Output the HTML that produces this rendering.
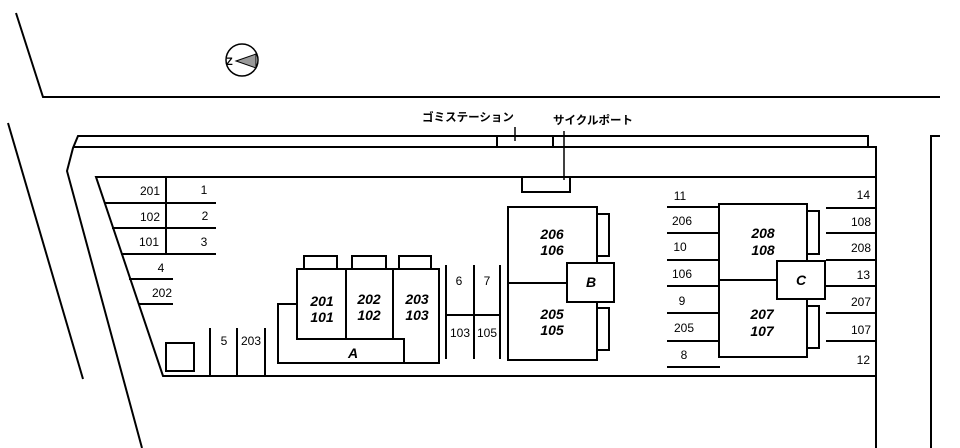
<!DOCTYPE html>
<html><head><meta charset="utf-8"><style>
html,body{margin:0;padding:0;background:#fff;}
svg{display:block;}
text{font-family:"Liberation Sans","Noto Sans CJK JP",sans-serif;fill:#000;}
.n{font-size:12px;}
.b{font-size:14px;font-weight:bold;font-style:italic;}
.j{font-size:11.5px;font-weight:bold;}
</style></head><body>
<svg width="960" height="448" viewBox="0 0 960 448" xmlns="http://www.w3.org/2000/svg">
<g stroke="#000" stroke-width="2" fill="none">
<!-- road -->
<polyline points="16,13 43,97 940,97"/>
<line x1="8" y1="123" x2="83" y2="379"/>
<!-- site outer -->
<polyline points="868,147 868,136 78,136 73,148 67,171 142,448"/>
<polyline points="73,147 876,147 876,448"/>
<polyline points="940,136 931,136 931,448"/>
<!-- inner lot -->
<polyline points="876,177 96,177 163,376 876,376"/>
<!-- gomi station -->
<line x1="497" y1="136" x2="497" y2="147"/>
<line x1="553" y1="136" x2="553" y2="147"/>
<line x1="515" y1="127" x2="515" y2="141" stroke-width="1.5"/>
<!-- cycle port -->
<polyline points="522,177 522,192 570,192 570,177"/>
<line x1="564" y1="131" x2="564" y2="180" stroke-width="1.5"/>
<!-- left parking -->
<line x1="104" y1="203" x2="216" y2="203"/>
<line x1="112" y1="228" x2="216" y2="228"/>
<line x1="121" y1="254" x2="216" y2="254"/>
<line x1="166" y1="177" x2="166" y2="254"/>
<line x1="129" y1="279" x2="173" y2="279"/>
<line x1="138" y1="304" x2="173" y2="304"/>
<rect x="166" y="343" width="28" height="28"/>
<line x1="210" y1="328" x2="210" y2="376"/>
<line x1="237" y1="328" x2="237" y2="376"/>
<line x1="265" y1="328" x2="265" y2="376"/>
<!-- building A -->
<polygon points="278,304 297,304 297,269 439,269 439,363 278,363"/>
<polyline points="297,304 297,339 404,339 404,363"/>
<line x1="346" y1="269" x2="346" y2="339"/>
<line x1="393" y1="269" x2="393" y2="339"/>
<polyline points="304,269 304,256 337,256 337,269"/>
<polyline points="352,269 352,256 386,256 386,269"/>
<polyline points="399,269 399,256 431,256 431,269"/>
<!-- 6/7 parking -->
<line x1="446" y1="265" x2="446" y2="359"/>
<line x1="474" y1="265" x2="474" y2="359"/>
<line x1="500" y1="265" x2="500" y2="359"/>
<line x1="446" y1="315" x2="500" y2="315"/>
<!-- building B -->
<rect x="508" y="207" width="89" height="153"/>
<line x1="508" y1="283" x2="567" y2="283"/>
<rect x="597" y="214" width="12" height="42"/>
<rect x="597" y="308" width="12" height="42"/>
<rect x="567" y="263" width="47" height="39" fill="#fff"/>
<!-- left C parking -->
<line x1="667" y1="207" x2="719" y2="207"/>
<line x1="667" y1="233" x2="719" y2="233"/>
<line x1="667" y1="260" x2="719" y2="260"/>
<line x1="667" y1="286" x2="719" y2="286"/>
<line x1="667" y1="313" x2="719" y2="313"/>
<line x1="667" y1="341" x2="719" y2="341"/>
<line x1="667" y1="367" x2="720" y2="367"/>
<!-- building C -->
<rect x="719" y="204" width="88" height="153"/>
<line x1="719" y1="280" x2="777" y2="280"/>
<rect x="807" y="211" width="12" height="43"/>
<rect x="807" y="306" width="12" height="42"/>
<rect x="777" y="261" width="48" height="38" fill="#fff"/>
<!-- right parking -->
<line x1="826" y1="208" x2="876" y2="208"/>
<line x1="826" y1="233" x2="876" y2="233"/>
<line x1="826" y1="260" x2="876" y2="260"/>
<line x1="826" y1="286" x2="876" y2="286"/>
<line x1="826" y1="313" x2="876" y2="313"/>
<line x1="826" y1="341" x2="876" y2="341"/>
<!-- compass -->
<circle cx="242" cy="60" r="16" stroke-width="1.5"/>
</g>
<polygon points="236,61 256,54 256,68" fill="#999" stroke="#000" stroke-width="1"/>
<text x="226" y="65" style="font-size:11px;font-weight:bold">Z</text>

<text class="j" x="468" y="121" text-anchor="middle">ゴミステーション</text>
<text class="j" x="593" y="124" text-anchor="middle">サイクルポート</text>

<g class="n" text-anchor="middle">
<text x="150" y="195" class="n">201</text><text x="204" y="194" class="n">1</text>
<text x="150" y="221" class="n">102</text><text x="205" y="220" class="n">2</text>
<text x="149" y="246" class="n">101</text><text x="204" y="246" class="n">3</text>
<text x="161" y="272" class="n">4</text>
<text x="162" y="297" class="n">202</text>
<text x="224" y="345" class="n">5</text><text x="251" y="345" class="n">203</text>
<text x="459" y="285" class="n">6</text><text x="487" y="285" class="n">7</text>
<text x="460" y="337" class="n">103</text><text x="487" y="337" class="n">105</text>
<text x="680" y="200" class="n">11</text><text x="682" y="225" class="n">206</text>
<text x="680" y="251" class="n">10</text><text x="682" y="278" class="n">106</text>
<text x="682" y="305" class="n">9</text><text x="684" y="332" class="n">205</text>
<text x="684" y="359" class="n">8</text>
</g>
<g text-anchor="end">
<text x="870" y="199" class="n">14</text><text x="871" y="226" class="n">108</text>
<text x="871" y="252" class="n">208</text><text x="870" y="279" class="n">13</text>
<text x="871" y="306" class="n">207</text><text x="871" y="334" class="n">107</text>
<text x="870" y="364" class="n">12</text>
</g>
<g text-anchor="middle">
<text x="322" y="306" class="b">201</text><text x="322" y="322" class="b">101</text>
<text x="369" y="304" class="b">202</text><text x="369" y="320" class="b">102</text>
<text x="417" y="304" class="b">203</text><text x="417" y="320" class="b">103</text>
<text x="353" y="358" class="b">A</text>
<text x="552" y="239" class="b">206</text><text x="552" y="255" class="b">106</text>
<text x="552" y="319" class="b">205</text><text x="552" y="335" class="b">105</text>
<text x="591" y="287" class="b">B</text>
<text x="763" y="238" class="b">208</text><text x="763" y="255" class="b">108</text>
<text x="762" y="319" class="b">207</text><text x="762" y="336" class="b">107</text>
<text x="801" y="285" class="b">C</text>
</g>
</svg>
</body></html>
